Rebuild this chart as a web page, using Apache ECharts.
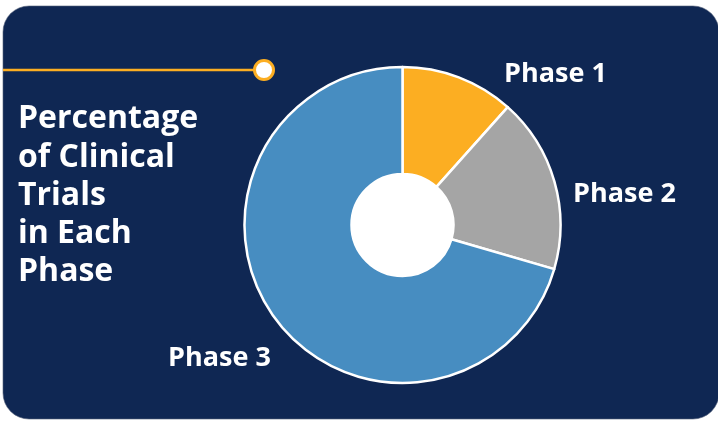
<!DOCTYPE html>
<html><head><meta charset="utf-8">
<script src="https://cdn.jsdelivr.net/npm/echarts@6/dist/echarts.min.js"></script>
<style>html,body{margin:0;padding:0;background:#fff}#c{width:718px;height:424px}</style>
</head><body><div id="c"></div>
<script>
const categories = ['Phase 1', 'Phase 2', 'Phase 3'];
const values = [11.6, 17.9, 70.5];
const colors = ['#fcae22', '#a5a5a5', '#478dc1'];
const titleText = 'Percentage\nof Clinical\nTrials\nin Each\nPhase';

const labelPos = {
  'Phase 1': {x: 504, y: 74, align: 'left'},
  'Phase 2': {x: 573, y: 194, align: 'left'},
  'Phase 3': {x: 168, y: 358, align: 'left'}
};

const chart = echarts.init(document.getElementById('c'), null, {renderer: 'canvas'});
chart.setOption({
  animation: false,
  backgroundColor: '#ffffff',
  title: {
    text: titleText,
    left: 18, top: 100, padding: 0,
    textStyle: {color: '#ffffff', fontFamily: 'Open Sans', fontWeight: 'bold', fontSize: 32, lineHeight: 38.3}
  },
  graphic: [
    {type: 'rect', z: -10, shape: {x: 3, y: 6, width: 716, height: 413, r: [26, 26, 26, 26]},
     style: {fill: '#0f2753', stroke: '#55627a', lineWidth: 0.6}},
    {type: 'line', z: -9, shape: {x1: 3, y1: 70, x2: 256, y2: 70}, style: {stroke: '#fcae22', lineWidth: 2.5}},
    {type: 'circle', z: -9, shape: {cx: 264, cy: 70, r: 9.5}, style: {fill: '#ffffff', stroke: '#fcae22', lineWidth: 3}},
    {type: 'circle', z: -8, shape: {cx: 402.5, cy: 225, r: 52}, style: {fill: '#ffffff'}}
  ],
  series: [{
    type: 'pie',
    center: [402.5, 225],
    radius: [51, 158],
    startAngle: 90,
    clockwise: true,
    silent: true,
    itemStyle: {borderColor: '#ffffff', borderWidth: 2.5},
    label: {show: true, position: 'outside', color: '#ffffff', fontFamily: 'Open Sans', fontWeight: 'bold', fontSize: 27},
    labelLine: {show: false},
    labelLayout: function (p) {
      const lp = labelPos[p.text] || {};
      return {x: lp.x, y: lp.y, align: lp.align, verticalAlign: 'middle'};
    },
    data: categories.map((n, i) => ({name: n, value: values[i], itemStyle: {color: colors[i]}}))
  }]
});
</script></body></html>
